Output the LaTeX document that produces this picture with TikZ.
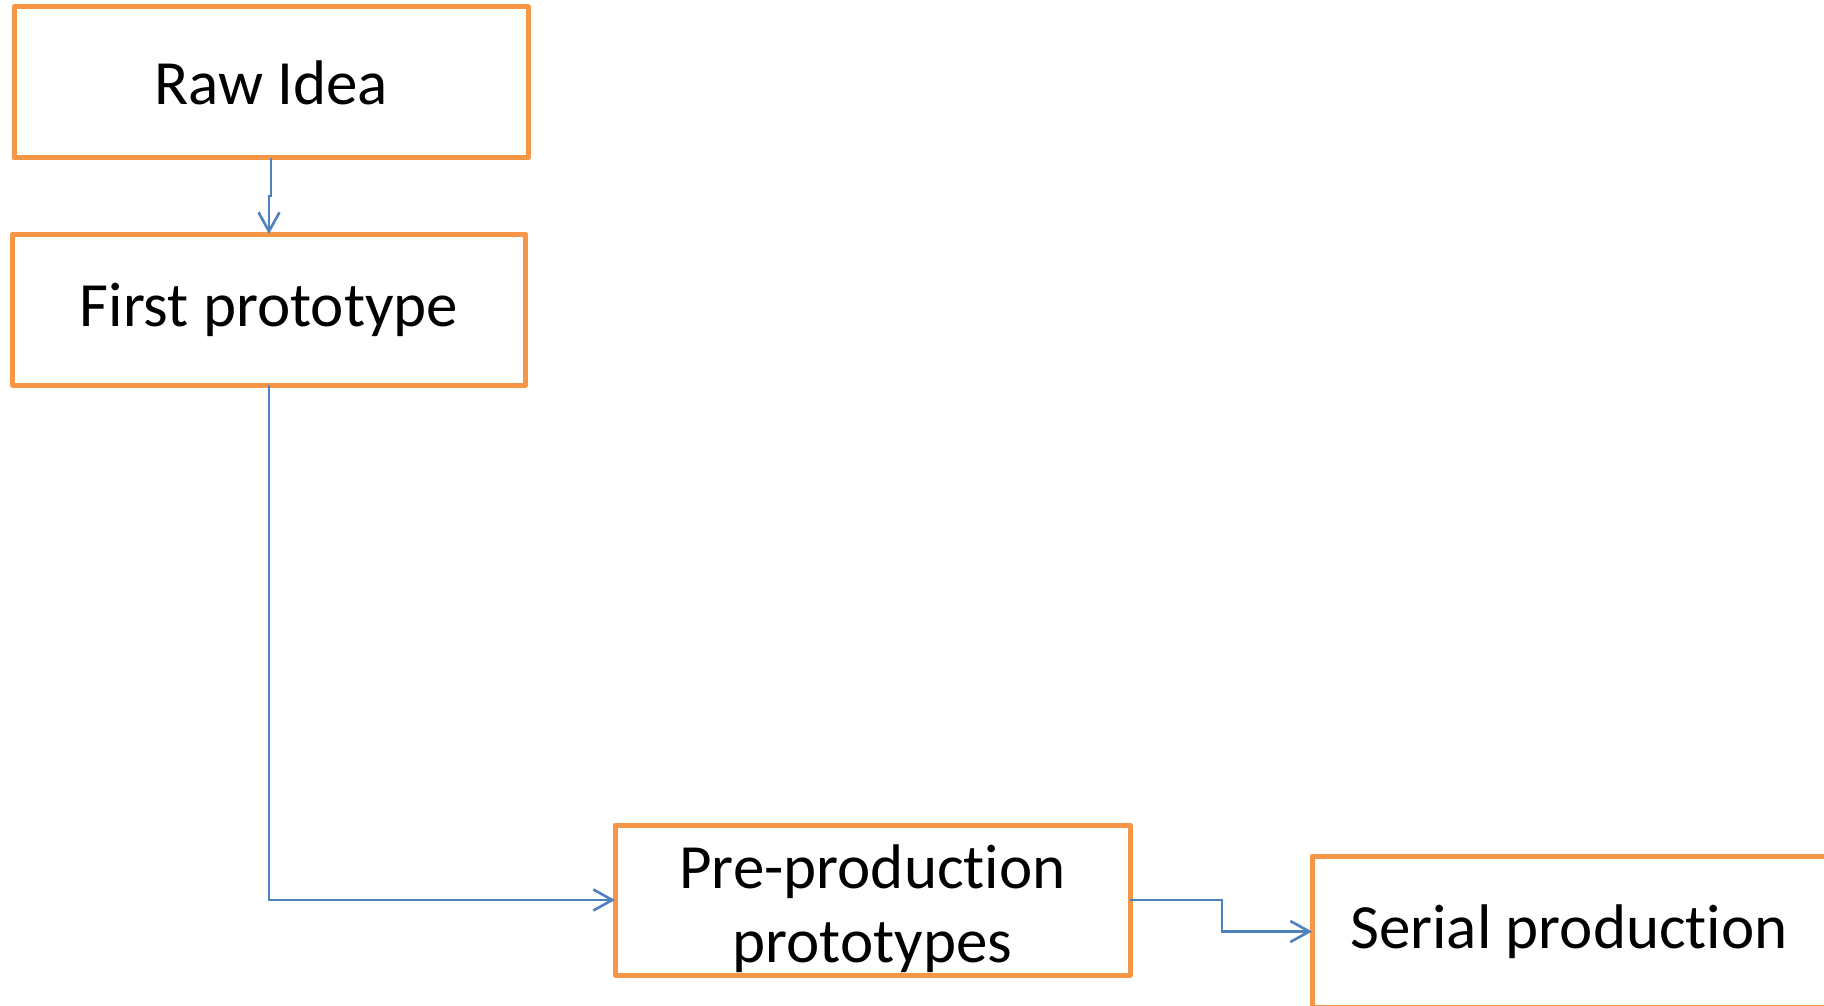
\documentclass[tikz,border=0pt]{standalone}
\usepackage{fontspec}
\setmainfont{Carlito}[Ligatures={NoCommon}]
\usetikzlibrary{arrows.meta,calc}
\definecolor{boxorange}{HTML}{F79646}
\definecolor{linkblue}{HTML}{4F81BD}
\begin{document}
\begin{tikzpicture}[x=1pt,y=-1pt,
  stagebox/.style={draw=boxorange,line width=5pt,line join=round,fill=white,
    inner sep=0pt,outer sep=0pt,align=center,
    font=\fontsize{63}{74}\selectfont},
  link/.style={draw=linkblue,line width=2.6pt,
    -{Straight Barb[length=19pt,width=21pt,line width=2.6pt]}}]
\useasboundingbox (0,0) rectangle (1824,1006);
\clip (0,0) rectangle (1824,1006);
\node[stagebox,minimum width=514pt,minimum height=151pt] (raw) at (271,82.5) {Raw Idea};
\node[stagebox,minimum width=513pt,minimum height=151pt] (first) at (269,309.5) {First prototype};
\node[stagebox,minimum width=515pt,minimum height=150pt] (pre) at (872.5,900)
  {\raisebox{-11pt}[\height][\depth]{\begin{tabular}{@{}c@{}}Pre-production\\prototypes\end{tabular}}};
\node[stagebox,minimum width=514pt,minimum height=151pt] (serial) at (1569,931.5) {Serial production};
\coordinate (jog) at ($(raw.south)!0.5!(first.north)$);
\draw[link] (raw.south) -- (raw.south |- jog) -- (first.north |- jog) -- (first.north);
\draw[link] (first.south) |- (pre.west);
\coordinate (step) at ($(pre.east)+(92,0)$);
\draw[link] (pre.east) -- (step) |- (serial.west);
\end{tikzpicture}
\end{document}
